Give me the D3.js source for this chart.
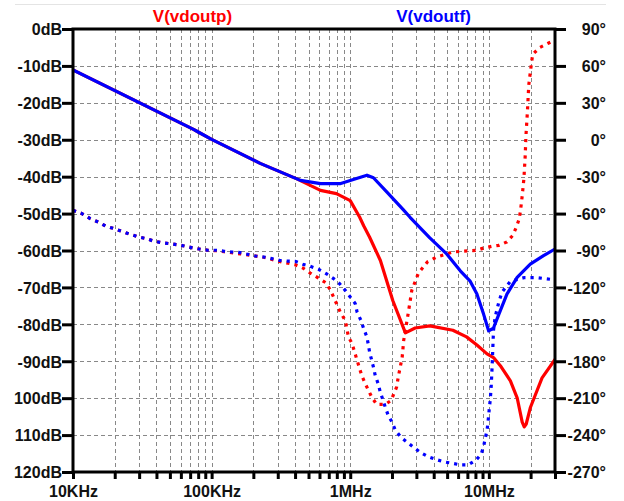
<!DOCTYPE html>
<html>
<head>
<meta charset="utf-8">
<script src="https://cdn.jsdelivr.net/npm/d3@7"></script>
<style>
  body { margin: 0; background: #fff; }
  text { font-family: "Liberation Sans", Arial, sans-serif; font-weight: bold; }
</style>
</head>
<body>
<svg id="chart" width="624" height="501"></svg>
<script>
// ---- Bode plot data: V(vdoutp) and V(vdoutf), magnitude (dB) and phase (deg) ----
const magFreqP = [10e3, 74e3, 80e3, 100e3, 224e3, 412e3, 610e3, 795e3, 1e6, 1.17e6, 1.25e6, 1.38e6, 1.65e6, 2.03e6, 2.5e6, 2.94e6, 3.75e6, 5.5e6, 6.9e6, 8.2e6, 9.7e6, 10.8e6, 12.1e6, 14.3e6, 16e6, 17.4e6, 18e6, 18.6e6, 19.9e6, 21.7e6, 24.2e6, 30e6];
const magP     = [-11.1, -27.2, -27.9, -29.9, -36.4, -40.6, -43.7, -44.6, -46.5, -51, -53.3, -56.4, -62.7, -73.6, -82.3, -81, -80.4, -81.6, -83.4, -85.6, -88, -89, -91.2, -95.3, -99.9, -106.5, -107.8, -107, -102.6, -99, -94.5, -89.5];

const magFreqF = [10e3, 74e3, 80e3, 100e3, 224e3, 412e3, 437e3, 610e3, 843e3, 1.11e6, 1.32e6, 1.47e6, 1.84e6, 2.42e6, 2.7e6, 3.75e6, 4.98e6, 6.22e6, 7.3e6, 8.2e6, 9.17e6, 9.97e6, 10.8e6, 11.8e6, 13.5e6, 16e6, 19.9e6, 24.8e6, 30e6];
const magF     = [-11.1, -27.2, -27.9, -29.9, -36.4, -40.6, -41, -41.9, -41.9, -40.5, -39.6, -40.3, -44.2, -49, -51, -56.6, -61, -65.5, -68.2, -71.8, -77.3, -81.8, -81, -77.3, -71.8, -67.3, -63.7, -61.4, -59.6];

const phFreqP = [10e3, 11.6e3, 13.3e3, 15.2e3, 17.3e3, 19.8e3, 22.5e3, 25.8e3, 29.6e3, 33.7e3, 38e3, 43.7e3, 49.6e3, 56e3, 63.3e3, 73.1e3, 83.5e3, 93.9e3, 108e3, 123e3, 161e3, 237e3, 309e3, 401e3, 455e3, 514e3, 590e3, 671e3, 720e3, 758e3, 847e3, 920e3, 972e3, 1.03e6, 1.11e6, 1.21e6, 1.28e6, 1.43e6, 1.55e6, 1.79e6, 1.97e6, 2.16e6, 2.22e6, 2.37e6, 2.43e6, 2.62e6, 2.78e6, 3.1e6, 3.6e6, 4.2e6, 5.5e6, 8.2e6, 9.17e6, 10.5e6, 11.8e6, 13.5e6, 14.9e6, 15.8e6, 16.5e6, 16.9e6, 17.4e6, 17.9e6, 18.3e6, 18.5e6, 19.0e6, 19.4e6, 20.0e6, 20.7e6, 23.4e6, 26.8e6, 30e6];
const phaseP  = [-57.3, -60, -64, -66.8, -70.3, -72.2, -74.4, -76.8, -79, -80.3, -82.3, -83.6, -84.4, -85.2, -86.3, -87.9, -89, -89.8, -90.2, -91, -92.7, -95.5, -98.9, -101.6, -104.2, -108.3, -112.4, -116.4, -122.4, -127.8, -140, -146.8, -160.4, -165.5, -177.7, -191.5, -198, -209.2, -215.1, -215, -211.9, -201, -192.9, -176.6, -163, -141, -122.4, -108.5, -99.3, -95.3, -91.2, -89.8, -88, -86.6, -85.8, -83, -77.6, -70.9, -64.8, -58, -45.6, -31.5, -12.5, 2.4, 24.1, 44.4, 56.6, 69.4, 75.1, 78.4, 81];

const phFreqF = [10e3, 11.6e3, 13.3e3, 15.2e3, 17.3e3, 19.8e3, 22.5e3, 25.8e3, 29.6e3, 33.7e3, 38e3, 43.7e3, 49.6e3, 56e3, 63.3e3, 73.1e3, 83.5e3, 93.9e3, 108e3, 123e3, 140e3, 161e3, 181e3, 206e3, 237e3, 272e3, 309e3, 353e3, 401e3, 455e3, 514e3, 590e3, 671e3, 758e3, 837e3, 920e3, 1.0e6, 1.087e6, 1.12e6, 1.195e6, 1.25e6, 1.32e6, 1.38e6, 1.47e6, 1.514e6, 1.59e6, 1.647e6, 1.71e6, 1.789e6, 1.88e6, 2.0e6, 2.11e6, 2.32e6, 2.59e6, 2.9e6, 3.24e6, 3.67e6, 4.18e6, 4.77e6, 5.42e6, 6.22e6, 7.08e6, 8.08e6, 8.78e6, 9.17e6, 9.4e6, 9.7e6, 9.85e6, 9.97e6, 10.1e6, 10.25e6, 10.4e6, 10.55e6, 10.8e6, 11.1e6, 11.8e6, 12.45e6, 14.3e6, 18e6, 22e6, 27.8e6, 30e6];
const phaseF  = [-57.3, -60, -64, -66.8, -70.3, -72.2, -74.4, -76.8, -79, -80.3, -82.3, -83.6, -84.4, -85.2, -86.3, -87.9, -89, -89.8, -89.8, -90.6, -91.2, -91.7, -93, -94.4, -95.3, -96.6, -98, -98.6, -98.8, -101.2, -102.8, -105.3, -108.8, -112.8, -116.9, -122.4, -127.8, -133.2, -140, -146.8, -153.5, -160.4, -172.6, -184.8, -191.5, -198.3, -205.1, -210.5, -217.3, -224, -229.5, -235.7, -241.7, -246, -250.4, -254.4, -257.7, -259.9, -261.8, -262.9, -264.2, -264.2, -260.3, -255.8, -249.3, -243, -236.3, -230, -223.5, -217.3, -210.5, -200, -185, -155, -144, -131.9, -123.7, -115, -112, -112, -113.4, -114];

// ---- Axis ticks and labels ----
const dbTicks   = [0, -10, -20, -30, -40, -50, -60, -70, -80, -90, -100, -110, -120];
const dbLabels  = ["0dB", "-10dB", "-20dB", "-30dB", "-40dB", "-50dB", "-60dB", "-70dB", "-80dB", "-90dB", "100dB", "110dB", "120dB"];
const degTicks  = [90, 60, 30, 0, -30, -60, -90, -120, -150, -180, -210, -240, -270];
const degLabels = ["90°", "60°", "30°", "0°", "-30°", "-60°", "-90°", "-120°", "-150°", "-180°", "-210°", "-240°", "-270°"];
const freqMajor = [1e4, 1e5, 1e6, 1e7];
const freqLabels = ["10KHz", "100KHz", "1MHz", "10MHz"];
const traceNames = ["V(vdoutp)", "V(vdoutf)"];
const traceColors = ["#ff0000", "#0000ff"];

// ---- Layout ----
const L = 73, R = 555, T = 29, B = 472;

const svg = d3.select("#chart");

const x = d3.scaleLog().domain([1e4, 3e7]).range([L, R]);
const yDb = d3.scaleLinear().domain([-120, 0]).range([B, T]);
const yDeg = d3.scaleLinear().domain([-270, 90]).range([B, T]);

// frequency ticks: 1..9 of every decade inside the range
const freqAll = [];
for (let dec = 1e4; dec <= 1e7; dec *= 10) {
  for (let m = 1; m <= 9; m++) {
    const f = dec * m;
    if (f <= 3e7) freqAll.push(f);
  }
}

// thin separator across the top of the window
svg.append("line")
  .attr("x1", 15).attr("x2", 606).attr("y1", 4.5).attr("y2", 4.5)
  .attr("stroke", "#e4e4e4").attr("stroke-width", 1);

// ---- Grid ----
const grid = svg.append("g").attr("stroke", "#888").attr("stroke-width", 1)
  .attr("stroke-dasharray", "4,3").attr("fill", "none");
grid.selectAll("line.h").data(dbTicks.filter(d => d < 0 && d > -120)).join("line")
  .attr("class", "h")
  .attr("x1", L).attr("x2", R)
  .attr("y1", d => Math.round(yDb(d)) + 0.5).attr("y2", d => Math.round(yDb(d)) + 0.5);
grid.selectAll("line.v").data(freqAll.filter(f => f > 1e4 && f < 3e7)).join("line")
  .attr("class", "v")
  .attr("y1", T).attr("y2", B)
  .attr("x1", d => Math.round(x(d)) + 0.5).attr("x2", d => Math.round(x(d)) + 0.5);

// ---- Traces ----
svg.append("clipPath").attr("id", "plotClip")
  .append("rect").attr("x", L).attr("y", T).attr("width", R - L).attr("height", B - T);
const plot = svg.append("g").attr("clip-path", "url(#plotClip)");

const lineDb = d3.line().x(d => x(d[0])).y(d => yDb(d[1]));
const lineDeg = d3.line().x(d => x(d[0])).y(d => yDeg(d[1]));
const zip = (a, b) => a.map((v, i) => [v, b[i]]);

const traces = [
  { mag: zip(magFreqP, magP), ph: zip(phFreqP, phaseP), color: traceColors[0] },
  { mag: zip(magFreqF, magF), ph: zip(phFreqF, phaseF), color: traceColors[1] }
];

traces.forEach(t => {
  plot.append("path").datum(t.mag)
    .attr("d", lineDb).attr("fill", "none")
    .attr("stroke", t.color).attr("stroke-width", 3.2)
    .attr("stroke-linejoin", "round").attr("stroke-linecap", "round");
  plot.append("path").datum(t.ph)
    .attr("d", lineDeg).attr("fill", "none")
    .attr("stroke", t.color).attr("stroke-width", 3.2)
    .attr("stroke-dasharray", "3.2,5");
});

// ---- Axes ----
function styleAxis(g) {
  g.select(".domain").remove();
  g.selectAll(".tick line").attr("stroke", "#000").attr("stroke-width", 3);
  g.selectAll(".tick text").attr("fill", "#111").style("font-size", "16px")
    .style("font-family", "'Liberation Sans', Arial, sans-serif").style("font-weight", "bold");
}

svg.append("g").attr("transform", `translate(${L},0)`)
  .call(d3.axisLeft(yDb).tickValues(dbTicks).tickSize(11).tickPadding(0)
    .tickFormat((d, i) => dbLabels[i]))
  .call(styleAxis)
  .call(g => g.selectAll(".tick text").attr("dy", "0.36em"));

svg.append("g").attr("transform", `translate(${R},0)`)
  .call(d3.axisRight(yDeg).tickValues(degTicks).tickSize(11).tickPadding(0)
    .tickFormat((d, i) => degLabels[i]))
  .call(styleAxis)
  .call(g => g.selectAll(".tick text").attr("text-anchor", "end").attr("x", 51).attr("dy", "0.36em"));

svg.append("g").attr("transform", `translate(0,${B})`)
  .call(d3.axisBottom(x).tickValues(freqAll).tickSize(7).tickPadding(7)
    .tickFormat(d => { const i = freqMajor.indexOf(d); return i >= 0 ? freqLabels[i] : ""; }))
  .call(styleAxis);

// plot frame
svg.append("rect").attr("x", L).attr("y", T).attr("width", R - L).attr("height", B - T)
  .attr("fill", "none").attr("stroke", "#000").attr("stroke-width", 3);

// ---- Trace titles ----
const titleX = [192.5, 433.5];
svg.selectAll("text.title").data(traceNames).join("text")
  .attr("class", "title")
  .attr("x", (d, i) => titleX[i]).attr("y", 22)
  .attr("text-anchor", "middle")
  .attr("fill", (d, i) => traceColors[i])
  .style("font-size", "17px")
  .text(d => d);
</script>
</body>
</html>
